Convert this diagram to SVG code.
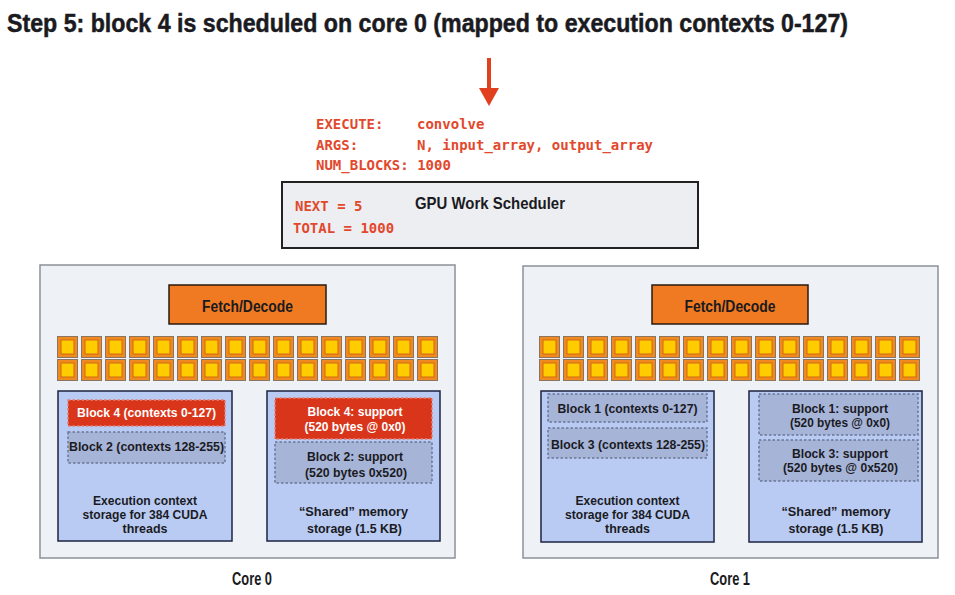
<svg xmlns="http://www.w3.org/2000/svg" width="955" height="595" viewBox="0 0 955 595">
<style>
.t{font-family:"Liberation Sans",Arial,sans-serif;font-weight:bold;fill:#1b1b1f}
.mono{font-family:"DejaVu Sans Mono","Liberation Mono",monospace;font-weight:bold;font-size:14px;fill:#e2482c}
.core{fill:#eef1f6;stroke:#8c9199;stroke-width:1.5}
.fd{fill:#f07a22;stroke:#2a1a10;stroke-width:1.5}
.store{fill:#b9cbf3;stroke:#1c2340;stroke-width:1.5}
.blk{fill:#a6b4d8;stroke:#6a7898;stroke-width:1.5;stroke-dasharray:2.5 2}
.red{fill:#d9351a;stroke:#e48070;stroke-width:1.5;stroke-dasharray:2.5 2}
.s12{font-size:12.5px}
.w{fill:#ffffff}
</style>
<defs>
<g id="cell">
<rect x="0.5" y="0.5" width="20" height="21" fill="#f08a1e" stroke="#8a7462" stroke-width="1"/>
<rect x="4" y="4" width="13" height="14" fill="#ffcc00" stroke="#cf6a12" stroke-width="1"/>
</g>
<g id="row">
<use href="#cell" x="0"/><use href="#cell" x="24"/><use href="#cell" x="48"/><use href="#cell" x="72"/>
<use href="#cell" x="96"/><use href="#cell" x="120"/><use href="#cell" x="144"/><use href="#cell" x="168"/>
<use href="#cell" x="192"/><use href="#cell" x="216"/><use href="#cell" x="240"/><use href="#cell" x="264"/>
<use href="#cell" x="288"/><use href="#cell" x="312"/><use href="#cell" x="336"/><use href="#cell" x="360"/>
</g>
</defs>
<rect width="955" height="595" fill="#ffffff"/>
<text id="title" class="t" x="7" y="32" font-size="26" stroke="#1b1b1f" stroke-width="0.5" textLength="841" lengthAdjust="spacingAndGlyphs">Step 5: block 4 is scheduled on core 0 (mapped to execution contexts 0-127)</text>

<g id="connectors">
<line x1="489" y1="58" x2="489" y2="90" stroke="#e0401e" stroke-width="4"/>
<polygon points="479,88 499,88 489,106" fill="#e0401e"/>
</g>

<g id="command">
<text class="mono" x="316" y="129">EXECUTE:</text>
<text class="mono" x="417" y="129">convolve</text>
<text class="mono" x="316" y="150">ARGS:</text>
<text class="mono" x="417" y="150">N, input_array, output_array</text>
<text class="mono" x="316" y="170">NUM_BLOCKS: 1000</text>
</g>

<g id="scheduler">
<rect x="282" y="182" width="416" height="66" fill="#eceef2" stroke="#222222" stroke-width="2"/>
<text class="t" x="490" y="209" font-size="17" text-anchor="middle" textLength="150" lengthAdjust="spacingAndGlyphs">GPU Work Scheduler</text>
<text class="mono" x="295" y="211">NEXT = 5</text>
<text class="mono" x="293" y="233">TOTAL = 1000</text>
</g>

<g id="core0">
<rect class="core" x="40" y="265" width="415" height="293"/>
<g id="core0-fetch">
<rect class="fd" x="169" y="285" width="157" height="39"/>
<text class="t" x="247.5" y="312" font-size="16" text-anchor="middle" textLength="91" lengthAdjust="spacingAndGlyphs">Fetch/Decode</text>
</g>
<g id="core0-alus">
<use href="#row" x="57" y="336"/>
<use href="#row" x="57" y="359"/>
</g>
<g id="core0-exec">
<rect class="store" x="58" y="391" width="174" height="150"/>
<rect class="red" x="68" y="400" width="157" height="26"/>
<text class="t s12 w" x="146.5" y="417" text-anchor="middle" textLength="139" lengthAdjust="spacingAndGlyphs">Block 4 (contexts 0-127)</text>
<rect class="blk" x="68" y="432" width="157" height="31"/>
<text class="t s12" x="146.5" y="451" text-anchor="middle" textLength="155" lengthAdjust="spacingAndGlyphs">Block 2 (contexts 128-255)</text>
<text class="t s12" x="145" y="505" text-anchor="middle" textLength="104" lengthAdjust="spacingAndGlyphs">Execution context</text>
<text class="t s12" x="145" y="519" text-anchor="middle" textLength="125" lengthAdjust="spacingAndGlyphs">storage for 384 CUDA</text>
<text class="t s12" x="145" y="533" text-anchor="middle" textLength="45" lengthAdjust="spacingAndGlyphs">threads</text>
</g>
<g id="core0-shared">
<rect class="store" x="267" y="391" width="173" height="150"/>
<rect class="red" x="275" y="398" width="157" height="41"/>
<text class="t s12 w" x="355" y="415.5" text-anchor="middle" textLength="95" lengthAdjust="spacingAndGlyphs">Block 4: support</text>
<text class="t s12 w" x="355" y="430.5" text-anchor="middle" textLength="101" lengthAdjust="spacingAndGlyphs">(520 bytes @ 0x0)</text>
<rect class="blk" x="275" y="442" width="157" height="41"/>
<text class="t s12" x="355" y="460.5" text-anchor="middle" textLength="96" lengthAdjust="spacingAndGlyphs">Block 2: support</text>
<text class="t s12" x="356" y="476.5" text-anchor="middle" textLength="102" lengthAdjust="spacingAndGlyphs">(520 bytes 0x520)</text>
<text class="t s12" x="353.5" y="516" text-anchor="middle" textLength="109" lengthAdjust="spacingAndGlyphs">“Shared” memory</text>
<text class="t s12" x="354.5" y="533" text-anchor="middle" textLength="95" lengthAdjust="spacingAndGlyphs">storage (1.5 KB)</text>
</g>
<text class="t" x="252" y="585" font-size="19" text-anchor="middle" textLength="40" lengthAdjust="spacingAndGlyphs">Core 0</text>
</g>

<g id="core1">
<rect class="core" x="523" y="266" width="415" height="292"/>
<g id="core1-fetch">
<rect class="fd" x="652" y="285" width="156" height="39"/>
<text class="t" x="730" y="312" font-size="16" text-anchor="middle" textLength="91" lengthAdjust="spacingAndGlyphs">Fetch/Decode</text>
</g>
<g id="core1-alus">
<use href="#row" x="539" y="336"/>
<use href="#row" x="539" y="359"/>
</g>
<g id="core1-exec">
<rect class="store" x="541" y="391" width="173" height="151"/>
<rect class="blk" x="548" y="394" width="159" height="28"/>
<text class="t s12" x="627.5" y="413" text-anchor="middle" textLength="140" lengthAdjust="spacingAndGlyphs">Block 1 (contexts 0-127)</text>
<rect class="blk" x="548" y="428" width="159" height="30"/>
<text class="t s12" x="628" y="449" text-anchor="middle" textLength="154" lengthAdjust="spacingAndGlyphs">Block 3 (contexts 128-255)</text>
<text class="t s12" x="627.5" y="505" text-anchor="middle" textLength="104" lengthAdjust="spacingAndGlyphs">Execution context</text>
<text class="t s12" x="627.5" y="519" text-anchor="middle" textLength="125" lengthAdjust="spacingAndGlyphs">storage for 384 CUDA</text>
<text class="t s12" x="627.5" y="533" text-anchor="middle" textLength="45" lengthAdjust="spacingAndGlyphs">threads</text>
</g>
<g id="core1-shared">
<rect class="store" x="749" y="391" width="173" height="151"/>
<rect class="blk" x="759" y="394" width="159" height="41"/>
<text class="t s12" x="840" y="413" text-anchor="middle" textLength="96" lengthAdjust="spacingAndGlyphs">Block 1: support</text>
<text class="t s12" x="840" y="426.5" text-anchor="middle" textLength="100" lengthAdjust="spacingAndGlyphs">(520 bytes @ 0x0)</text>
<rect class="blk" x="759" y="440" width="159" height="41"/>
<text class="t s12" x="840" y="457.5" text-anchor="middle" textLength="96" lengthAdjust="spacingAndGlyphs">Block 3: support</text>
<text class="t s12" x="840.5" y="472" text-anchor="middle" textLength="115" lengthAdjust="spacingAndGlyphs">(520 bytes @ 0x520)</text>
<text class="t s12" x="836" y="516" text-anchor="middle" textLength="109" lengthAdjust="spacingAndGlyphs">“Shared” memory</text>
<text class="t s12" x="836" y="533" text-anchor="middle" textLength="95" lengthAdjust="spacingAndGlyphs">storage (1.5 KB)</text>
</g>
<text class="t" x="730" y="585" font-size="19" text-anchor="middle" textLength="40" lengthAdjust="spacingAndGlyphs">Core 1</text>
</g>
</svg>
